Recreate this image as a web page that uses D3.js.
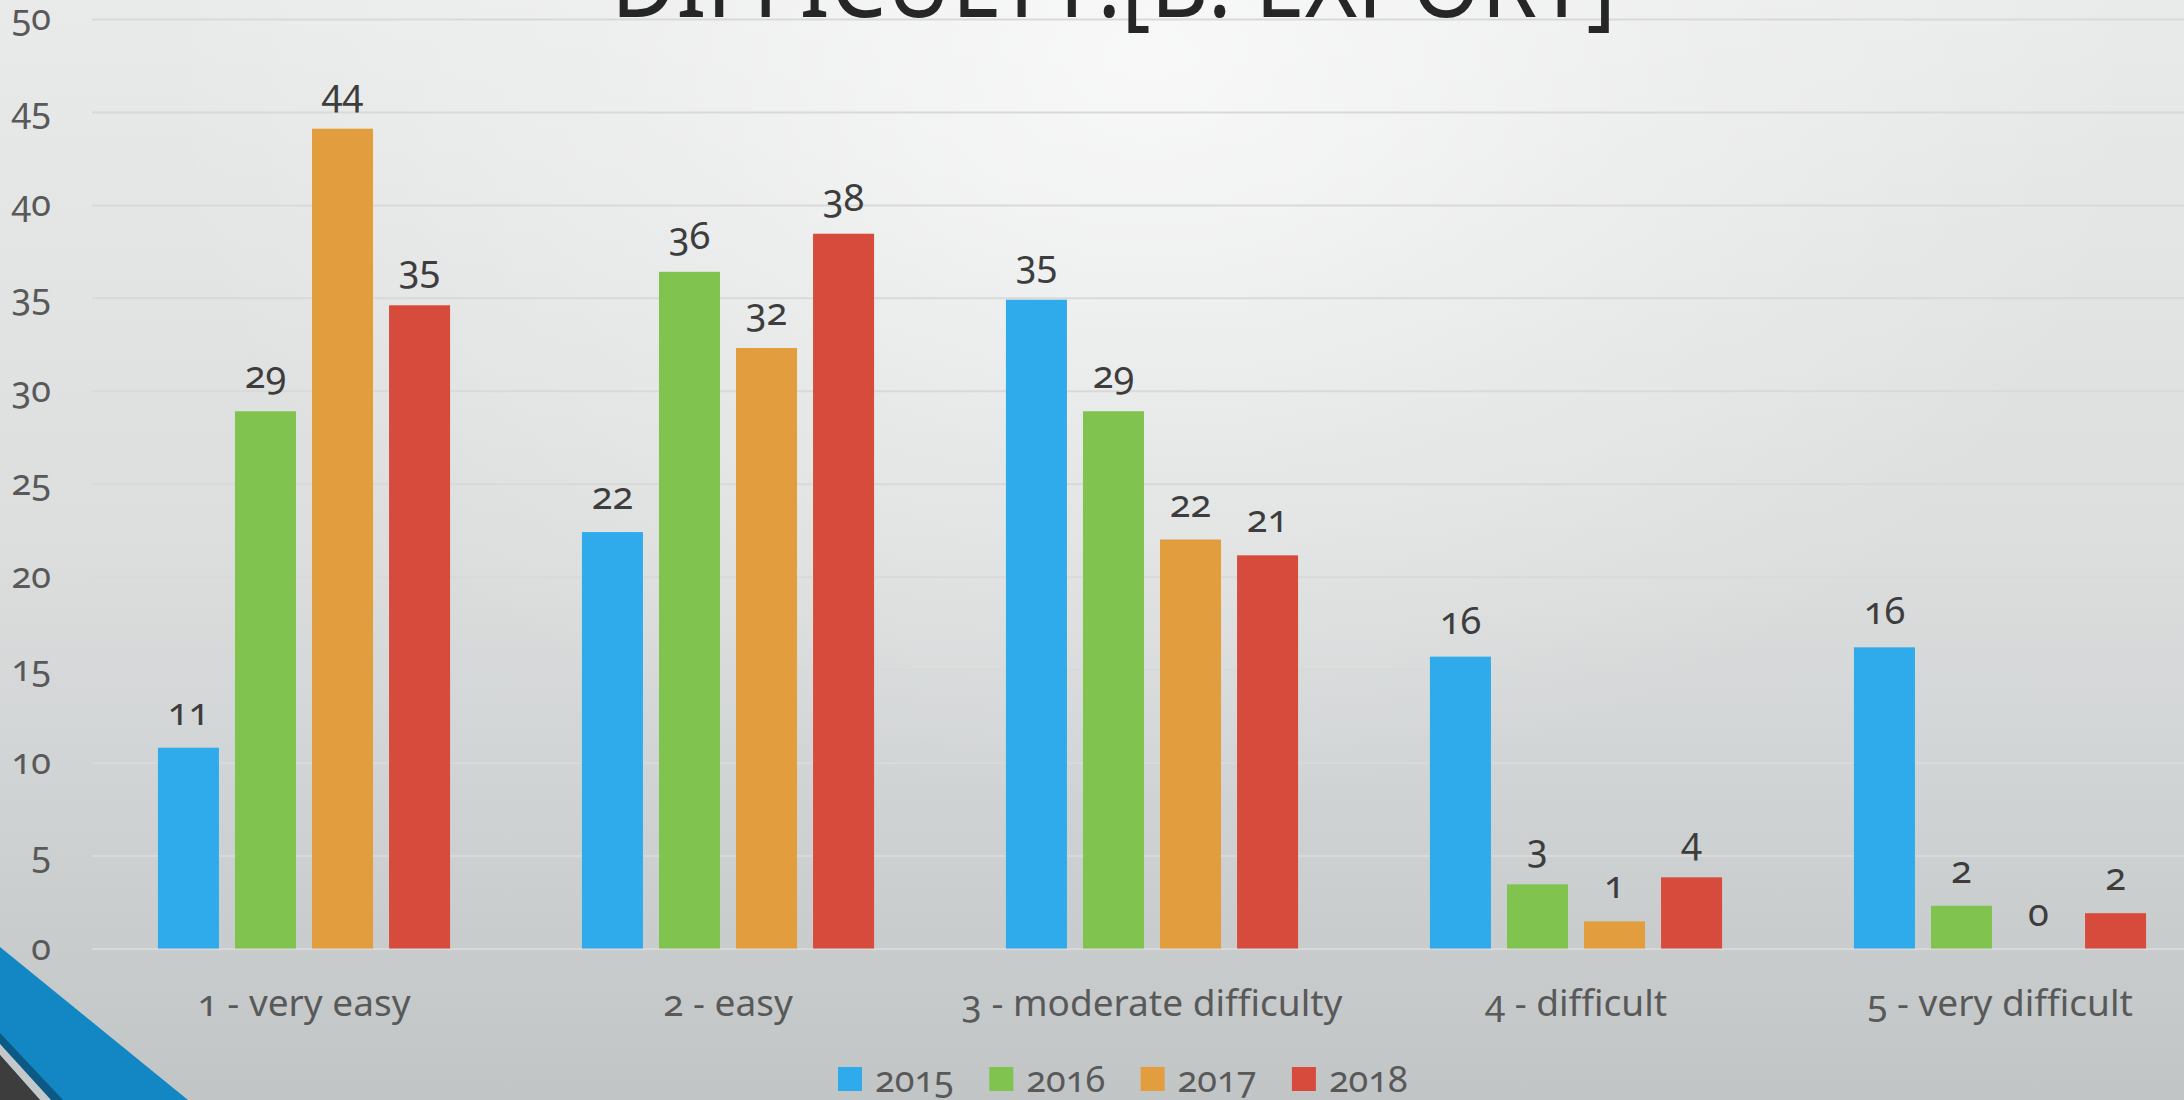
<!DOCTYPE html>
<html>
<head>
<meta charset="utf-8">
<script src="https://cdn.jsdelivr.net/npm/d3@7"></script>
<style>
  html, body { margin: 0; padding: 0; overflow: hidden; background: #d8dadb; }
  svg { display: block; }
  text { font-family: "Noto Sans", "Open Sans", sans-serif; }
</style>
</head>
<body>
<svg id="chart" width="2184" height="1100"></svg>
<script>
// ---- data ----
const categories = ["1 - very easy", "2 - easy", "3 - moderate difficulty", "4 - difficult", "5 - very difficult"];
const seriesNames = ["2015", "2016", "2017", "2018"];
const values2015 = [10.8, 22.4, 34.9, 15.7, 16.2];
const values2016 = [28.9, 36.4, 28.9, 3.45, 2.3];
const values2017 = [44.1, 32.3, 22.0, 1.46, 0];
const values2018 = [34.6, 38.45, 21.15, 3.83, 1.9];
const seriesColors = ["#2fabeb", "#80c34f", "#e29d3f", "#d74b3c"];
const yTicks = [0, 5, 10, 15, 20, 25, 30, 35, 40, 45, 50];
const titleText = "DIFFICULTY:[B. EXPORT]";

const seriesValues = [values2015, values2016, values2017, values2018];

const W = 2184, H = 1100;
const svg = d3.select("#chart");
const defs = svg.append("defs");

// ---- background ----
const lg = defs.append("linearGradient").attr("id", "bgLin").attr("x1", 0).attr("y1", 0).attr("x2", 0).attr("y2", 1);
lg.append("stop").attr("offset", "0").attr("stop-color", "#e9eaea");
lg.append("stop").attr("offset", "0.5").attr("stop-color", "#dcdede");
lg.append("stop").attr("offset", "1").attr("stop-color", "#c1c5c6");
svg.append("rect").attr("width", W).attr("height", H).attr("fill", "url(#bgLin)");

const rg = defs.append("radialGradient").attr("id", "bgRad")
  .attr("gradientUnits", "userSpaceOnUse")
  .attr("cx", 1150).attr("cy", 60).attr("r", 1000)
  .attr("gradientTransform", "translate(1150,60) scale(1,0.75) translate(-1150,-60)");
rg.append("stop").attr("offset", "0").attr("stop-color", "#ffffff").attr("stop-opacity", 0.7);
rg.append("stop").attr("offset", "0.55").attr("stop-color", "#ffffff").attr("stop-opacity", 0.25);
rg.append("stop").attr("offset", "1").attr("stop-color", "#ffffff").attr("stop-opacity", 0);
svg.append("rect").attr("width", W).attr("height", H).attr("fill", "url(#bgRad)");

// ---- scales ----
const plotLeft = 92, plotRight = 2212, plotTop = 19, plotBottom = 948.5;
const x0 = d3.scaleBand().domain(categories).range([plotLeft, plotRight]).padding(0);
const groupWidth = x0.bandwidth() * 0.689;
const x1 = d3.scaleBand().domain(seriesNames).range([0, groupWidth]).paddingInner(0.208).paddingOuter(0);
const y = d3.scaleLinear().domain([0, 50]).range([plotBottom, plotTop]);

// ---- gridlines ----
const grid = svg.append("g")
  .attr("transform", `translate(${plotLeft},0)`)
  .call(d3.axisLeft(y).tickValues(yTicks).tickSize(-(plotRight - plotLeft)).tickFormat(""));
grid.select(".domain").remove();
grid.selectAll("line").attr("stroke", "#d9d9d9").attr("stroke-width", 2);

// ---- y tick labels ----
const yAxis = svg.append("g")
  .attr("transform", `translate(51,0)`)
  .call(d3.axisLeft(y).tickValues(yTicks).tickSize(0).tickPadding(0));
yAxis.select(".domain").remove();
yAxis.selectAll("text")
  .attr("fill", "#595959")
  .style("font-size", "36px")
  .style("font-feature-settings", "'onum' 1")
  .attr("dy", "0.3em");

// ---- title (clipped at top) ----
svg.append("text")
  .attr("x", 611).attr("y", 17)
  .attr("textLength", 1005).attr("lengthAdjust", "spacingAndGlyphs")
  .attr("fill", "#262626")
  .style("font-size", "98px")
  .text(titleText);

// ---- bars ----
const groups = svg.append("g").selectAll("g")
  .data(categories)
  .join("g")
  .attr("transform", d => `translate(${x0(d) + (x0.bandwidth() - groupWidth) / 2},0)`);

groups.selectAll("rect")
  .data((d, i) => seriesNames.map((s, j) => ({ s, j, v: seriesValues[j][i] })))
  .join("rect")
  .attr("x", d => x1(d.s))
  .attr("width", x1.bandwidth())
  .attr("y", d => y(d.v))
  .attr("height", d => y(0) - y(d.v))
  .attr("fill", d => seriesColors[d.j]);

// ---- data labels ----
groups.selectAll("text.lbl")
  .data((d, i) => seriesNames.map((s, j) => ({ s, j, v: seriesValues[j][i] })))
  .join("text")
  .attr("class", "lbl")
  .attr("x", d => x1(d.s) + x1.bandwidth() / 2)
  .attr("y", d => y(d.v) - 23)
  .attr("text-anchor", "middle")
  .attr("fill", "#3d3d3d")
  .style("font-size", "38px")
  .style("font-feature-settings", "'onum' 1")
  .text(d => Math.round(d.v));

// ---- category labels ----
const xAxis = svg.append("g")
  .attr("transform", `translate(0,${plotBottom})`)
  .call(d3.axisBottom(x0).tickSize(0).tickPadding(0));
xAxis.select(".domain").remove();
xAxis.selectAll("text")
  .attr("y", 67).attr("dy", 0)
  .attr("fill", "#595959")
  .style("font-size", "37px")
  .style("font-feature-settings", "'onum' 1");

// ---- legend ----
const legendStart = 838, legendStep = 151.3;
const leg = svg.append("g").selectAll("g")
  .data(seriesNames)
  .join("g")
  .attr("transform", (d, i) => `translate(${legendStart + i * legendStep},0)`);
leg.append("rect").attr("x", 0).attr("y", 1067).attr("width", 24).attr("height", 24)
  .attr("fill", (d, i) => seriesColors[i]);
leg.append("text").attr("x", 37).attr("y", 1092)
  .attr("fill", "#595959")
  .style("font-size", "36px")
  .style("font-feature-settings", "'onum' 1")
  .text(d => d);

// ---- bottom-left decoration ----
const deco = svg.append("g");
deco.append("polygon").attr("points", "0,947 188,1100 0,1100").attr("fill", "#1387c4");
deco.append("polygon").attr("points", "0,1033 63,1100 51,1100 0,1044").attr("fill", "#0d5985");
deco.append("polygon").attr("points", "0,1044 51,1100 40,1100 0,1055").attr("fill", "#c5c8c9");
deco.append("polygon").attr("points", "0,1055 40,1100 0,1100").attr("fill", "#3d3d3d");
</script>
</body>
</html>
